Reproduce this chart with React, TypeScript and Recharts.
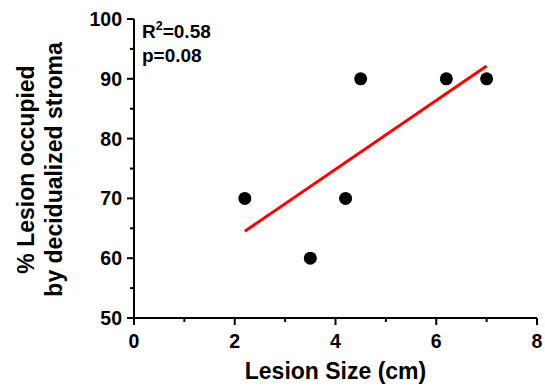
import React from "react";
import { ComposedChart, Scatter, XAxis, YAxis, ReferenceLine, Customized } from "recharts";

const lesionSize = [2.2, 3.5, 4.2, 4.5, 6.2, 7.0];
const decidualizedPct = [70, 60, 70, 90, 90, 90];
const fitStart = { x: 2.2, y: 64.5 };
const fitEnd = { x: 7.0, y: 92.15 };
const xTicks = [0, 1, 2, 3, 4, 5, 6, 7, 8];
const xLabeled = [0, 2, 4, 6, 8];
const yTicks = [50, 55, 60, 65, 70, 75, 80, 85, 90, 95, 100];
const yLabeled = [50, 60, 70, 80, 90, 100];
const rSquared = "0.58";
const pValue = "0.08";

const points = lesionSize.map((x, i) => ({ x, y: decidualizedPct[i] }));

const FONT = "'Liberation Sans', Arial, Helvetica, sans-serif";

const XTick = (props: any) => {
  const { x, y, payload } = props;
  const major = xLabeled.includes(payload.value);
  return (
    <g>
      <line x1={x} x2={x} y1={y} y2={y + (major ? 7 : 4)} stroke="#000" strokeWidth={2} />
      {major && (
        <text x={x} y={y + 30} textAnchor="middle" style={{ fontFamily: FONT, fontWeight: 700, fontSize: 19.5, fill: "#000" }}>
          {String(payload.value)}
        </text>
      )}
    </g>
  );
};

const YTick = (props: any) => {
  const { x, y, payload } = props;
  const major = yLabeled.includes(payload.value);
  return (
    <g>
      <line x1={x} x2={x - (major ? 7 : 4)} y1={y} y2={y} stroke="#000" strokeWidth={2} />
      {major && (
        <text x={x - 12} y={y + 7} textAnchor="end" style={{ fontFamily: FONT, fontWeight: 700, fontSize: 19.5, fill: "#000" }}>
          {String(payload.value)}
        </text>
      )}
    </g>
  );
};

const XTitle = (props: any) => {
  const vb = props.viewBox;
  return (
    <text x={vb.x + vb.width / 2} y={vb.y + 61} textAnchor="middle" style={{ fontFamily: FONT, fontWeight: 700, fontSize: 23, fill: "#000" }}>
      Lesion Size (cm)
    </text>
  );
};

const YTitle = (props: any) => {
  const vb = props.viewBox;
  const cy = vb.y + vb.height / 2 + 1;
  const st = { fontFamily: FONT, fontWeight: 700, fontSize: 23, fill: "#000" };
  return (
    <g>
      <text x={34} y={cy} transform={`rotate(-90, 34, ${cy})`} textAnchor="middle" style={st}>
        % Lesion occupied
      </text>
      <text x={62} y={cy} transform={`rotate(-90, 62, ${cy})`} textAnchor="middle" style={st}>
        by decidualized stroma
      </text>
    </g>
  );
};

const Annotation = () => {
  const st = { fontFamily: FONT, fontWeight: 700, fontSize: 19, fill: "#000" };
  return (
    <g>
      <text x={142} y={38} style={st}>
        R<tspan style={{ fontSize: 12.5 }} dy={-8}>2</tspan>
        <tspan dy={8}>={rSquared}</tspan>
      </text>
      <text x={142} y={62} style={st}>
        p={pValue}
      </text>
    </g>
  );
};

export default function App() {
  return (
    <div style={{ position: "absolute", left: 0, top: 0, background: "#fff" }}>
      <ComposedChart width={545} height={386} margin={{ top: 19, right: 8, bottom: 0, left: 0 }}>
        <XAxis
          type="number"
          dataKey="x"
          domain={[0, 8]}
          ticks={xTicks}
          interval={0}
          height={68}
          tickSize={0}
          tickMargin={0}
          tickLine={false}
          tick={(p: any) => <XTick {...p} />}
          stroke="#000"
          strokeWidth={2}
          axisLine={{ stroke: "#000", strokeWidth: 2 }}
          label={<XTitle />}
          allowDataOverflow
        />
        <YAxis
          type="number"
          dataKey="y"
          domain={[50, 100]}
          ticks={yTicks}
          interval={0}
          width={134}
          tickSize={0}
          tickMargin={0}
          tickLine={false}
          tick={(p: any) => <YTick {...p} />}
          stroke="#000"
          strokeWidth={2}
          axisLine={{ stroke: "#000", strokeWidth: 2 }}
          label={<YTitle />}
          allowDataOverflow
        />
        <ReferenceLine
          segment={[fitStart, fitEnd]}
          stroke="#ff0000"
          strokeWidth={3}
          ifOverflow="visible"
        />
        <Scatter
          data={points}
          fill="#000"
          isAnimationActive={false}
          shape={(p: any) => <circle cx={p.cx} cy={p.cy} r={6.5} fill="#000" />}
        />
        <Customized component={Annotation} />
      </ComposedChart>
    </div>
  );
}
